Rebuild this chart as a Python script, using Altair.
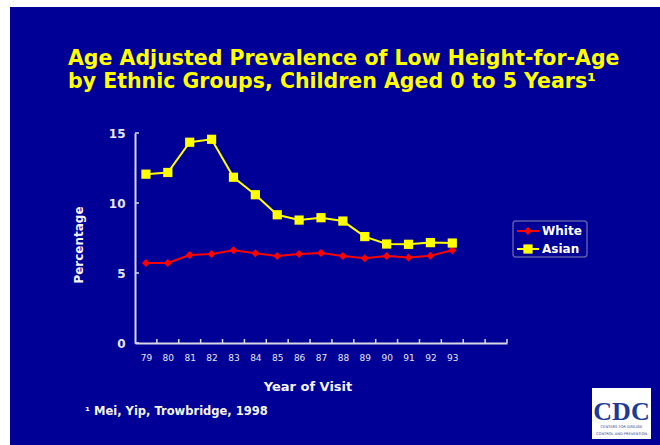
import altair as alt
import pandas as pd

# Survey years (19xx) and age-adjusted prevalence (%) of low height-for-age
years = [79, 80, 81, 82, 83, 84, 85, 86, 87, 88, 89, 90, 91, 92, 93]
white = [5.72, 5.72, 6.29, 6.36, 6.62, 6.41, 6.22, 6.36, 6.43, 6.22, 6.05, 6.22, 6.10, 6.24, 6.62]
asian = [12.06, 12.18, 14.34, 14.55, 11.84, 10.59, 9.16, 8.78, 8.95, 8.71, 7.60, 7.07, 7.05, 7.17, 7.14]

series = ["White", "Asian"]
series_colors = ["#FF0000", "#FFFF00"]
series_shapes = ["diamond", "square"]
series_sizes = [64, 85]

y_ticks = [0, 5, 10, 15]
# boundaries between year categories (axis runs on to 95)
x_edges = [79.5, 80.5, 81.5, 82.5, 83.5, 84.5, 85.5, 86.5, 87.5, 88.5,
           89.5, 90.5, 91.5, 92.5, 93.5, 94.5, 95.5]

title_lines = ["Age Adjusted Prevalence of Low Height-for-Age",
               "by Ethnic Groups, Children Aged 0 to 5 Years\u00b9"]
x_title = "Year of Visit"
y_title = "Percentage"
footnote = "\u00b9 Mei, Yip, Trowbridge, 1998"

df = pd.DataFrame({
    "year": years * 2,
    "pct": white + asian,
    "group": ["White"] * len(years) + ["Asian"] * len(years),
})

W, H = 372, 210
PAD_L, PAD_T = 135, 133
BG = "#000096"
AXIS = "#D8D8E4"
FONT = "DejaVu Sans"

x_scale = alt.Scale(domain=[78.5, 95.5], nice=False, zero=False)
y_scale = alt.Scale(domain=[0, 15], nice=False, zero=True)
x_axis = alt.Axis(values=years, format="d", ticks=False, tickSize=0, labelPadding=10,
                  labelFontSize=9, title=None, grid=False)
y_axis = alt.Axis(values=y_ticks, ticks=False, tickSize=0, labelPadding=10,
                  labelFontSize=12, labelFontWeight="bold", title=None, grid=False)

one = alt.Data(values=[{}])


def text(label, x, y, size, color, weight="bold", align="left", angle=0,
         font=FONT, baseline="alphabetic"):
    """Text drawn at a pixel position relative to the plot origin."""
    return alt.Chart(one).mark_text(
        text=label, font=font, fontSize=size, fontWeight=weight, align=align,
        baseline=baseline, angle=angle, color=color,
    ).encode(x=alt.value(x), y=alt.value(y))


# white margin strips along the left and top edges
strips = [
    alt.Chart(one).mark_rect(color="white").encode(
        x=alt.value(-PAD_L), x2=alt.value(-PAD_L + 10),
        y=alt.value(-PAD_T), y2=alt.value(445 - PAD_T)),
    alt.Chart(one).mark_rect(color="white").encode(
        x=alt.value(-PAD_L), x2=alt.value(660 - PAD_L),
        y=alt.value(-PAD_T), y2=alt.value(-PAD_T + 7)),
]

base = alt.Chart(df).encode(
    x=alt.X("year:Q", scale=x_scale, axis=x_axis),
    y=alt.Y("pct:Q", scale=y_scale, axis=y_axis),
    color=alt.Color("group:N", scale=alt.Scale(domain=series, range=series_colors), legend=None),
)
lines = base.mark_line(strokeWidth=2)
points = base.mark_point(filled=True, opacity=1).encode(
    shape=alt.Shape("group:N", scale=alt.Scale(domain=series, range=series_shapes), legend=None),
    size=alt.Size("group:N", scale=alt.Scale(domain=series, range=series_sizes), legend=None),
)

x_tick_marks = alt.Chart(pd.DataFrame({"edge": x_edges})).mark_rule(
    color=AXIS, strokeWidth=1.5
).encode(x=alt.X("edge:Q", scale=x_scale, axis=x_axis), y=alt.value(H), y2=alt.value(H - 4))

y_tick_marks = alt.Chart(pd.DataFrame({"tick": y_ticks})).mark_rule(
    color=AXIS, strokeWidth=1.5
).encode(y=alt.Y("tick:Q", scale=y_scale, axis=y_axis), x=alt.value(0), x2=alt.value(4))

# legend box with line-and-marker keys
legend = [
    alt.Chart(one).mark_rect(fillOpacity=0, stroke="#5A5AA8", strokeWidth=1.5, cornerRadius=3).encode(
        x=alt.value(378), x2=alt.value(452), y=alt.value(88), y2=alt.value(124)),
]
for i, (name, col, shp, sz) in enumerate(zip(series, series_colors, series_shapes, series_sizes)):
    ly = 98 + 18 * i
    legend.append(alt.Chart(one).mark_rule(color=col, strokeWidth=2).encode(
        x=alt.value(382), x2=alt.value(404), y=alt.value(ly)))
    legend.append(alt.Chart(one).mark_point(shape=shp, filled=True, size=sz, color=col, opacity=1).encode(
        x=alt.value(393), y=alt.value(ly)))
    legend.append(text(name, 407, ly, 12, "#FFFFFF", baseline="middle"))

# agency logo block
logo = [
    alt.Chart(one).mark_rect(color="white").encode(
        x=alt.value(457), x2=alt.value(516), y=alt.value(255), y2=alt.value(306)),
    alt.Chart(one).mark_text(text="CDC", font="Liberation Serif", fontSize=26, fontWeight="bold",
                             align="center", color="#1F3A93").encode(
        x=alt.value(486.5), y=alt.value(279)),
    alt.Chart(one).mark_text(text="CENTERS FOR DISEASE", font=FONT, fontSize=3.6,
                             align="center", color="#1F3A93").encode(
        x=alt.value(486.5), y=alt.value(294)),
    alt.Chart(one).mark_text(text="CONTROL AND PREVENTION", font=FONT, fontSize=3.6,
                             align="center", color="#1F3A93").encode(
        x=alt.value(486.5), y=alt.value(301)),
]

labels = [
    text(title_lines[0], 68 - PAD_L, 65 - PAD_T, 20.5, "#FFFF00"),
    text(title_lines[1], 68 - PAD_L, 88 - PAD_T, 20.5, "#FFFF00"),
    text(x_title, 308 - PAD_L, 391 - PAD_T, 13, "#F4F4F4", align="center"),
    text(y_title, 79 - PAD_L, 245 - PAD_T, 12, "#F4F4F4", align="center",
         angle=270, baseline="middle"),
    text(footnote, 85 - PAD_L, 415 - PAD_T, 11.5, "#F4F4E6"),
]

chart = alt.layer(
    *strips, lines, points, x_tick_marks, y_tick_marks, *legend, *logo, *labels
).properties(
    width=W, height=H, background=BG,
    padding={"left": PAD_L, "top": PAD_T, "right": 660 - PAD_L - W, "bottom": 445 - PAD_T - H},
    autosize=alt.AutoSizeParams(type="none"),
).configure_view(stroke=None).configure_axis(
    domainColor=AXIS, domainWidth=2, labelColor="#E6E6EE", labelFont=FONT,
)

chart.save("out.html", embed_options={"renderer": "svg", "actions": False})
